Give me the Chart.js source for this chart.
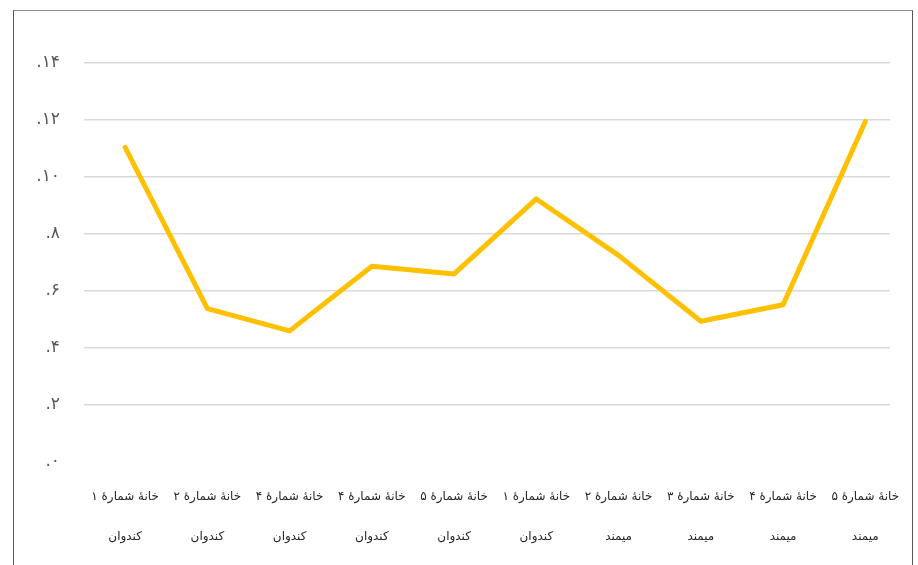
<!DOCTYPE html>
<html lang="fa">
<head>
<meta charset="utf-8">
<title>نمودار خانه‌ها</title>
<script src="https://cdn.jsdelivr.net/npm/chart.js@4.4.1/dist/chart.umd.min.js"></script>
<style>
  html, body { margin: 0; padding: 0; background: #ffffff; }
  #wrap { position: relative; width: 918px; height: 565px; overflow: hidden; }
  #frame {
    position: absolute; left: 13px; top: 10px; width: 898px; height: 600px;
    border: 1px solid #555555; border-top-color: #8f8f8f;
    pointer-events: none;
  }
  canvas { position: absolute; left: 0; top: 0; }
</style>
</head>
<body>
<div id="wrap">
  <canvas id="linechart" width="918" height="565"></canvas>
  <div id="frame"></div>
</div>
<script>
// نام خانه‌ها و روستاها
const houses = ['خانۀ شمارۀ ۱', 'خانۀ شمارۀ ۲', 'خانۀ شمارۀ ۴', 'خانۀ شمارۀ ۴', 'خانۀ شمارۀ ۵',
                'خانۀ شمارۀ ۱', 'خانۀ شمارۀ ۲', 'خانۀ شمارۀ ۳', 'خانۀ شمارۀ ۴', 'خانۀ شمارۀ ۵'];
const villages = ['کندوان', 'کندوان', 'کندوان', 'کندوان', 'کندوان',
                  'کندوان', 'میمند', 'میمند', 'میمند', 'میمند'];
const values = [0.1104, 0.0538, 0.0460, 0.0687, 0.0660, 0.0923, 0.0725, 0.0494, 0.0552, 0.1195];

// برچسب‌های محور عمودی
const yTicks = [0, 0.02, 0.04, 0.06, 0.08, 0.10, 0.12, 0.14];
const yTickLabels = ['.۰', '.۲', '.۴', '.۶', '.۸', '.۱۰', '.۱۲', '.۱۴'];

const ctx = document.getElementById('linechart').getContext('2d');
const font = 'DejaVu Sans';

const points = values.map((v, i) => ({ x: i, y: v }));

const linechart = new Chart(ctx, {
    type: 'line',
    data: {
        datasets: [{
            data: points,
            borderColor: '#FFC000',
            borderWidth: 5,
            borderJoinStyle: 'round',
            borderCapStyle: 'round',
            pointRadius: 0,
            tension: 0
        }]
    },
    options: {
        responsive: false,
        animation: false,
        layout: { padding: { left: 30, right: 28, top: 63, bottom: 0 } },
        plugins: { legend: { display: false }, tooltip: { enabled: false } },
        scales: {
            x: {
                type: 'linear',
                min: -0.5,
                max: 9.3,
                afterBuildTicks: (scale) => {
                    scale.ticks = houses.map((h, i) => ({ value: i }));
                },
                afterFit: (scale) => {
                    // برچسب آخر می‌تواند از ناحیهٔ نمودار بیرون بزند
                    scale.height = 103;
                    scale.paddingLeft = 0;
                    scale.paddingRight = 0;
                },
                grid: { display: false, drawTicks: false },
                border: { display: false },
                ticks: {
                    autoSkip: false,
                    maxRotation: 0,
                    padding: 15,
                    color: '#262626',
                    font: { family: font, size: 12, lineHeight: 3.33 },
                    callback: (value, index) => [houses[index], villages[index]]
                }
            },
            y: {
                min: 0,
                max: 0.14,
                afterBuildTicks: (scale) => {
                    scale.ticks = yTicks.map(v => ({ value: v }));
                },
                afterFit: (scale) => { scale.width = 54; },
                grid: {
                    drawTicks: false,
                    lineWidth: 1.5,
                    color: (c) => c.tick && c.tick.value === 0 ? 'rgba(0,0,0,0)' : '#d9d9d9'
                },
                border: { display: false },
                ticks: {
                    padding: 24,
                    color: '#595959',
                    font: { family: font, size: 17 },
                    callback: (value, index) => yTickLabels[index]
                }
            }
        }
    }
});
</script>
</body>
</html>
